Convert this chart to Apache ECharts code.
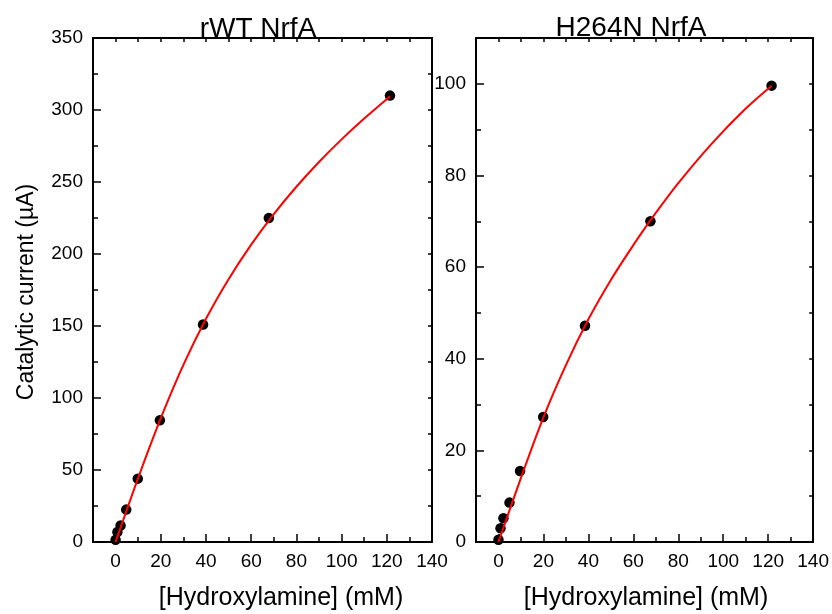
<!DOCTYPE html>
<html>
<head>
<meta charset="utf-8">
<script src="https://cdn.jsdelivr.net/npm/echarts@6/dist/echarts.min.js"></script>
<style>
html,body{margin:0;padding:0;background:#fff;}
#chart{width:832px;height:614px;}
</style>
</head>
<body>
<div id="chart"></div>
<script>
// ---- data ----
const panelTitles = ['rWT NrfA', 'H264N NrfA'];
const xAxisName = '[Hydroxylamine] (mM)';
const yAxisName = 'Catalytic current (µA)';

const xTickLabels = [0, 20, 40, 60, 80, 100, 120, 140];
const yTickLabelsWT = [0, 50, 100, 150, 200, 250, 300, 350];
const yTickLabelsH264N = [0, 20, 40, 60, 80, 100];

// rWT NrfA measured points
const wtConc = [0, 0.8, 2.2, 4.7, 9.8, 19.6, 38.7, 67.8, 121.4];
const wtCurrent = [1.5, 7, 11.5, 22.5, 44, 84.5, 151, 225, 310];
// rWT NrfA fitted curve
const wtFitConc = [0, 10, 20, 30, 40, 50, 60, 70, 80, 90, 100, 110, 121.5];
const wtFitCurrent = [0, 44.5, 86, 123, 155, 182.5, 206.5, 227.7, 246.7, 263.9, 279.6, 294.1, 309.6];

// H264N NrfA measured points
const h264nConc = [0, 0.9, 2.2, 4.9, 9.6, 19.9, 38.5, 67.6, 121.5];
const h264nCurrent = [0.5, 3.0, 5.2, 8.6, 15.5, 27.3, 47.2, 70.0, 99.6];
// H264N NrfA fitted curve
const h264nFitConc = [0, 10, 20, 30, 40, 50, 60, 67.6, 80, 95, 110, 121.5];
const h264nFitCurrent = [0, 14.0, 27.2, 38.6, 48.6, 57.2, 64.8, 70.2, 78.3, 87.0, 94.6, 99.6];

// ---- chart ----
const FONT = '"Liberation Sans", Arial, sans-serif';
const BLACK = '#000';
const pairs = (xs, ys) => xs.map((x, i) => [x, ys[i]]);

const grids = [
  {left: 93, right: 400, top: 38, bottom: 72},
  {left: 476, right: 17, top: 38, bottom: 72}
];

function xAxesFor(g) {
  const base = {type: 'value', gridIndex: g, min: -10, max: 140, interval: 10, splitLine: {show: false}};
  return [
    Object.assign({}, base, {
      position: 'bottom',
      axisLine: {show: true, onZero: false, lineStyle: {color: BLACK, width: 2}},
      axisTick: {show: true, inside: true, length: 5, lineStyle: {color: BLACK, width: 1.5}},
      axisLabel: {show: true, customValues: xTickLabels, fontSize: 19, color: BLACK, margin: 10, fontFamily: FONT}
    }),
    Object.assign({}, base, {
      position: 'bottom',
      axisLine: {show: false, onZero: false},
      axisTick: {show: true, inside: true, length: 8, customValues: xTickLabels, lineStyle: {color: BLACK, width: 1.5}},
      axisLabel: {show: false}
    }),
    Object.assign({}, base, {
      position: 'top',
      axisLine: {show: true, onZero: false, lineStyle: {color: BLACK, width: 2}},
      axisTick: {show: true, inside: true, length: 4, lineStyle: {color: BLACK, width: 1.5}},
      axisLabel: {show: false}
    })
  ];
}

const xAxes = [].concat(xAxesFor(0), xAxesFor(1));

const yAxes = [
  // left panel main
  {type: 'value', gridIndex: 0, min: 0, max: 350, interval: 25, position: 'left',
   axisLine: {show: true, onZero: false, lineStyle: {color: BLACK, width: 2}},
   axisTick: {show: true, inside: true, length: 5, lineStyle: {color: BLACK, width: 1.5}},
   axisLabel: {show: true, customValues: yTickLabelsWT, fontSize: 19, color: BLACK, margin: 10, fontFamily: FONT},
   splitLine: {show: false}},
  {type: 'value', gridIndex: 0, min: 0, max: 350, interval: 25, position: 'left',
   axisLine: {show: false, onZero: false},
   axisTick: {show: true, inside: true, length: 8, customValues: yTickLabelsWT, lineStyle: {color: BLACK, width: 1.5}},
   axisLabel: {show: false}, splitLine: {show: false}},
  {type: 'value', gridIndex: 0, min: 0, max: 350, interval: 25, position: 'right',
   axisLine: {show: true, onZero: false, lineStyle: {color: BLACK, width: 2}},
   axisTick: {show: true, inside: true, length: 4, lineStyle: {color: BLACK, width: 1.5}},
   axisLabel: {show: false}, splitLine: {show: false}},
  // right panel main
  {type: 'value', gridIndex: 1, min: 0, max: 110, interval: 10, position: 'left',
   axisLine: {show: true, onZero: false, lineStyle: {color: BLACK, width: 2}},
   axisTick: {show: true, inside: true, length: 5, lineStyle: {color: BLACK, width: 1.5}},
   axisLabel: {show: true, customValues: yTickLabelsH264N, fontSize: 19, color: BLACK, margin: 10, fontFamily: FONT},
   splitLine: {show: false}},
  {type: 'value', gridIndex: 1, min: 0, max: 110, interval: 10, position: 'left',
   axisLine: {show: false, onZero: false},
   axisTick: {show: true, inside: true, length: 8, customValues: yTickLabelsH264N, lineStyle: {color: BLACK, width: 1.5}},
   axisLabel: {show: false}, splitLine: {show: false}},
  {type: 'value', gridIndex: 1, min: 0, max: 110, interval: 10, position: 'right',
   axisLine: {show: true, onZero: false, lineStyle: {color: BLACK, width: 2}},
   axisTick: {show: true, inside: true, length: 4, lineStyle: {color: BLACK, width: 1.5}},
   axisLabel: {show: false}, splitLine: {show: false}}
];

function scatter(xi, yi, xs, ys) {
  return {type: 'scatter', xAxisIndex: xi, yAxisIndex: yi, data: pairs(xs, ys),
    symbol: 'circle', symbolSize: 10.5, itemStyle: {color: BLACK, opacity: 1}, z: 2, silent: true};
}
function fit(xi, yi, xs, ys) {
  return {type: 'line', xAxisIndex: xi, yAxisIndex: yi, data: pairs(xs, ys),
    smooth: 0.3, showSymbol: false, symbol: 'none',
    lineStyle: {color: '#ff0000', width: 2}, z: 3, silent: true};
}

const chart = echarts.init(document.getElementById('chart'), null, {renderer: 'canvas'});
chart.setOption({
  animation: false,
  backgroundColor: '#fff',
  grid: grids,
  xAxis: xAxes,
  yAxis: yAxes,
  series: [
    scatter(0, 0, wtConc, wtCurrent),
    fit(0, 0, wtFitConc, wtFitCurrent),
    scatter(3, 3, h264nConc, h264nCurrent),
    fit(3, 3, h264nFitConc, h264nFitCurrent)
  ],
  graphic: [
    {type: 'text', x: 258, y: 29, z: 10, style: {text: panelTitles[0], align: 'center', verticalAlign: 'middle', font: '28px ' + FONT, fill: BLACK}},
    {type: 'text', x: 631, y: 28.5, z: 10, style: {text: panelTitles[1], align: 'center', verticalAlign: 'middle', font: '28px ' + FONT, fill: BLACK}},
    {type: 'text', x: 281, y: 598, style: {text: xAxisName, align: 'center', verticalAlign: 'middle', font: '25px ' + FONT, fill: BLACK}},
    {type: 'text', x: 646, y: 598, style: {text: xAxisName, align: 'center', verticalAlign: 'middle', font: '25px ' + FONT, fill: BLACK}},
    {type: 'text', x: 27, y: 292, rotation: Math.PI / 2, style: {text: yAxisName, align: 'center', verticalAlign: 'middle', font: '23px ' + FONT, fill: BLACK}}
  ]
});
</script>
</body>
</html>
